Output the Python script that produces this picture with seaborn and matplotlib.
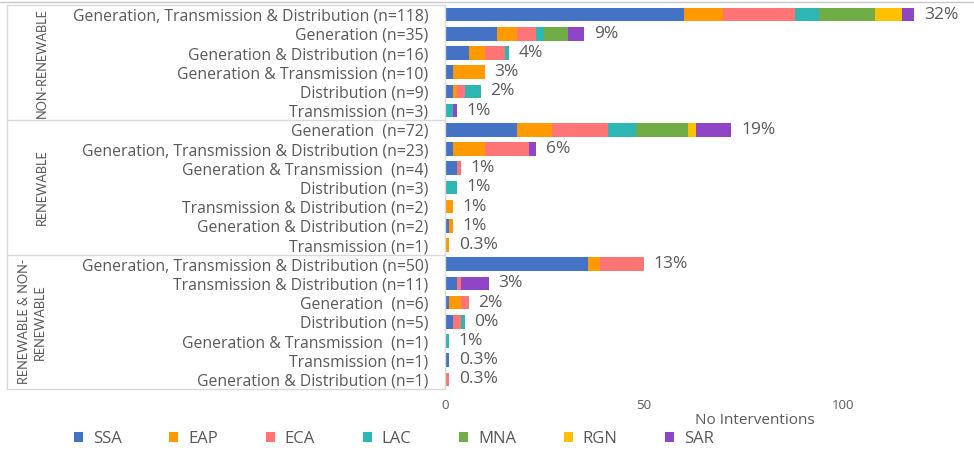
import numpy as np
import pandas as pd
import matplotlib
matplotlib.use('Agg')
import matplotlib.pyplot as plt
import matplotlib.transforms as mtransforms
from matplotlib.lines import Line2D
from matplotlib.patches import Patch
import seaborn as sns

# ---------------- data ----------------
groups = ['NON-RENEWABLE', 'RENEWABLE', 'RENEWABLE & NON-\nRENEWABLE']
group_sizes = [6, 7, 7]

row_labels = [
    'Generation, Transmission & Distribution (n=118)',
    'Generation (n=35)',
    'Generation & Distribution (n=16)',
    'Generation & Transmission (n=10)',
    'Distribution (n=9)',
    'Transmission (n=3)',
    'Generation  (n=72)',
    'Generation, Transmission & Distribution (n=23)',
    'Generation & Transmission  (n=4)',
    'Distribution (n=3)',
    'Transmission & Distribution (n=2)',
    'Generation & Distribution (n=2)',
    'Transmission (n=1)',
    'Generation, Transmission & Distribution (n=50)',
    'Transmission & Distribution (n=11)',
    'Generation  (n=6)',
    'Distribution (n=5)',
    'Generation & Transmission  (n=1)',
    'Transmission (n=1)',
    'Generation & Distribution (n=1)',
]
pct_labels = ['32%', '9%', '4%', '3%', '2%', '1%',
              '19%', '6%', '1%', '1%', '1%', '1%', '0.3%',
              '13%', '3%', '2%', '0%', '1%', '0.3%', '0.3%']

regions = ['SSA', 'EAP', 'ECA', 'LAC', 'MNA', 'RGN', 'SAR']
SSA = [60, 13, 6, 2, 2, 0, 18, 2, 3, 0, 0, 1, 0, 36, 3, 1, 2, 0, 1, 0]
EAP = [10, 5, 4, 8, 1, 0, 9, 8, 0, 0, 2, 1, 1, 3, 0, 3, 0, 0, 0, 0]
ECA = [18, 5, 5, 0, 2, 0, 14, 11, 1, 0, 0, 0, 0, 11, 1, 2, 2, 0, 0, 1]
LAC = [6, 2, 1, 0, 4, 2, 7, 0, 0, 3, 0, 0, 0, 0, 0, 0, 1, 1, 0, 0]
MNA = [14, 6, 0, 0, 0, 0, 13, 0, 0, 0, 0, 0, 0, 0, 0, 0, 0, 0, 0, 0]
RGN = [7, 0, 0, 0, 0, 0, 2, 0, 0, 0, 0, 0, 0, 0, 0, 0, 0, 0, 0, 0]
SAR = [3, 4, 0, 0, 0, 1, 9, 2, 0, 0, 0, 0, 0, 0, 7, 0, 0, 0, 0, 0]

colors = ['#4472C4', '#FF9900', '#FF7575', '#2DB6B4', '#70AD47', '#FFC000', '#8E46C6']
TXT = '#595959'
GRID = '#D9D9D9'

# ---------------- build frame ----------------
row_ids = [f'r{i}' for i in range(len(row_labels))]
df = pd.DataFrame({'row': row_ids, 'SSA': SSA, 'EAP': EAP, 'ECA': ECA,
                   'LAC': LAC, 'MNA': MNA, 'RGN': RGN, 'SAR': SAR})
cum = df[regions].cumsum(axis=1)
for r in regions:
    df['cum_' + r] = cum[r]
df['total'] = df[regions].sum(axis=1)

sns.set_theme(style='white')
plt.rcParams['font.family'] = ['Open Sans', 'DejaVu Sans']

fig, ax = plt.subplots(figsize=(9.74, 4.5), dpi=100)
fig.subplots_adjust(left=445/974, right=966/974, top=1-5/450, bottom=1-389/450)

# stacked bars: draw cumulative widths from the last region back to the first
for i in reversed(range(len(regions))):
    sns.barplot(data=df, x='cum_' + regions[i], y='row', order=row_ids,
                orient='h', color=colors[i], saturation=1, width=0.7,
                linewidth=0, ax=ax)

# percentage labels
for i, (tot, lab) in enumerate(zip(df['total'], pct_labels)):
    ax.annotate(lab, xy=(tot, i), xytext=(7, 0), textcoords='offset points',
                va='center', ha='left', fontsize=12.5, color=TXT)

ax.set_xlim(0, 131)
ax.set_ylim(len(row_ids) - 0.5, -0.5)
ax.set_xticks([0, 50, 100])
ax.set_yticks(range(len(row_labels)))
ax.set_yticklabels(row_labels)
ax.tick_params(axis='y', length=0, pad=12, labelsize=11.3, labelcolor=TXT)
ax.tick_params(axis='x', length=0, pad=7, labelsize=9.5, labelcolor=TXT)
ax.set_ylabel('')
ax.set_xlabel('No Interventions', fontsize=11, color=TXT)
ax.xaxis.set_label_coords(310/521, -24/384)
for s in ['top', 'right', 'bottom']:
    ax.spines[s].set_visible(False)
ax.spines['left'].set_color(GRID)
ax.spines['left'].set_linewidth(1)

# category box with group separators
trans = mtransforms.blended_transform_factory(fig.transFigure, ax.transData)
x0, x1 = 7/974, 445/974
bounds = [-0.5] + list(np.cumsum(group_sizes) - 0.5)
for b in bounds:
    ax.add_line(Line2D([x0, x1], [b, b], transform=trans, color=GRID,
                       lw=1, clip_on=False))
ax.add_line(Line2D([x0, x0], [bounds[0], bounds[-1]], transform=trans,
                   color=GRID, lw=1, clip_on=False))

# group labels
group_x = [42/974, 42/974, 32/974]
for g, xg, lo, hi in zip(groups, group_x, bounds[:-1], bounds[1:]):
    ax.text(xg, (lo + hi) / 2, g, transform=trans, rotation=90,
            ha='center', va='center', multialignment='center',
            fontsize=9.2, color=TXT, linespacing=1.3, family=['Lato', 'DejaVu Sans'])

# thin chart border on top
fig.add_artist(Line2D([0, 1], [1 - 2/450, 1 - 2/450], color='#C8C8C8', lw=1))

# legend
handles = [Patch(facecolor=c, edgecolor='none', label=r) for r, c in zip(regions, colors)]
fig.legend(handles=handles, loc='center', bbox_to_anchor=(394/974, 1 - 439/450),
           ncol=7, frameon=False, fontsize=12, handlelength=0.55,
           handleheight=0.55, handletextpad=0.6, columnspacing=2.85,
           labelcolor=TXT)

fig.savefig('out.png', dpi=100)
